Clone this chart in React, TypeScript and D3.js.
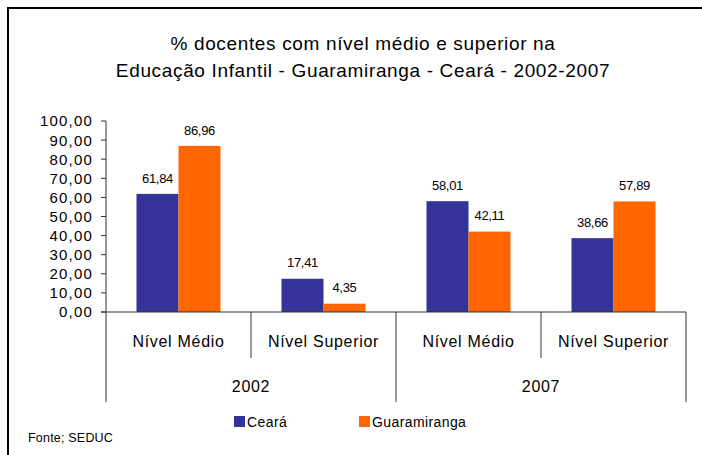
import React from 'react';
import * as d3 from 'd3';

const categories = ['Nível Médio', 'Nível Superior', 'Nível Médio', 'Nível Superior'];
const years = ['2002', '2007'];
const seriesNames = ['Ceará', 'Guaramiranga'];
const ceara = [61.84, 17.41, 58.01, 38.66];
const guaramiranga = [86.96, 4.35, 42.11, 57.89];
const yTicks = [0, 10, 20, 30, 40, 50, 60, 70, 80, 90, 100];

const colors = ['#333399', '#FF6600'];
const font = '"Liberation Sans", Arial, sans-serif';

const dim = { width: 702, height: 455, left: 106, right: 686, top: 121, bottom: 312 };

const br = d3.formatLocale({ decimal: ',', thousands: '.', grouping: [3], currency: ['R$', ''] });
const fmt = br.format('.2f');

export default function App() {
  const keys = categories.map((c, i) => `${i}`);
  const x = d3.scaleBand().domain(keys).range([dim.left, dim.right]);
  const inner = d3
    .scaleBand()
    .domain(seriesNames)
    .range([0, x.bandwidth()])
    .paddingInner(0)
    .paddingOuter(0.726);
  const y = d3.scaleLinear().domain([0, 100]).range([dim.bottom, dim.top]);
  const values = [ceara, guaramiranga];

  const yearScale = d3.scaleBand().domain(years).range([dim.left, dim.right]);

  return (
    <svg
      width={dim.width}
      height={dim.height}
      style={{ position: 'absolute', left: 0, top: 0, background: '#fff' }}
      fontFamily={font}>
      <rect x={8} y={8} width={720} height={470} fill='none' stroke='#000' strokeWidth={2} />

      <text x={363} y={50} textAnchor='middle' fontSize={19} letterSpacing={0.65}>
        % docentes com nível médio e superior na
      </text>
      <text x={363} y={77} textAnchor='middle' fontSize={19} letterSpacing={0.65}>
        Educação Infantil - Guaramiranga - Ceará - 2002-2007
      </text>

      {yTicks.map(t => (
        <g key={t}>
          <line x1={dim.left - 5} x2={dim.left} y1={y(t)} y2={y(t)} stroke='#333' />
          <text x={93} y={y(t)} dy='.36em' textAnchor='end' fontSize={15} letterSpacing={1.2}>
            {fmt(t)}
          </text>
        </g>
      ))}

      {values.map((vals, s) =>
        vals.map((v, i) => (
          <g key={`${s}-${i}`}>
            <rect
              x={(x(keys[i]) as number) + (inner(seriesNames[s]) as number)}
              y={y(v)}
              width={inner.bandwidth()}
              height={y(0) - y(v)}
              fill={colors[s]}
            />
            <text
              x={(x(keys[i]) as number) + (inner(seriesNames[s]) as number) + inner.bandwidth() / 2}
              y={y(v) - 16}
              dy='.36em'
              textAnchor='middle'
              fontSize={13}
              letterSpacing={-0.3}>
              {fmt(v)}
            </text>
          </g>
        ))
      )}

      <line x1={dim.left} x2={dim.left} y1={dim.top} y2={402} stroke='#333' />
      <line x1={dim.left - 5} x2={dim.right} y1={dim.bottom} y2={dim.bottom} stroke='#333' />
      {d3.range(categories.length + 1).map(i => {
        const xx = dim.left + i * x.bandwidth();
        const long = i % 2 === 0;
        return i === 0 ? null : (
          <line key={i} x1={xx} x2={xx} y1={dim.bottom} y2={long ? 402 : 358} stroke='#333' />
        );
      })}
      {categories.map((c, i) => (
        <text
          key={i}
          x={(x(keys[i]) as number) + x.bandwidth() / 2}
          y={341}
          dy='.36em'
          textAnchor='middle'
          fontSize={16}
          letterSpacing={0.7}>
          {c}
        </text>
      ))}
      {years.map(yr => (
        <text
          key={yr}
          x={(yearScale(yr) as number) + yearScale.bandwidth() / 2}
          y={386}
          dy='.36em'
          textAnchor='middle'
          fontSize={16}
          letterSpacing={0.7}>
          {yr}
        </text>
      ))}

      {seriesNames.map((n, i) => (
        <g key={n} transform={`translate(${234 + i * 125}, 416)`}>
          <rect width={11} height={11} fill={colors[i]} />
          <text x={13} y={6} dy='.36em' fontSize={14} letterSpacing={0.4}>
            {n}
          </text>
        </g>
      ))}

      <text x={28} y={437} dy='.36em' fontSize={12.5} letterSpacing={0.2}>
        Fonte; SEDUC
      </text>
    </svg>
  );
}
